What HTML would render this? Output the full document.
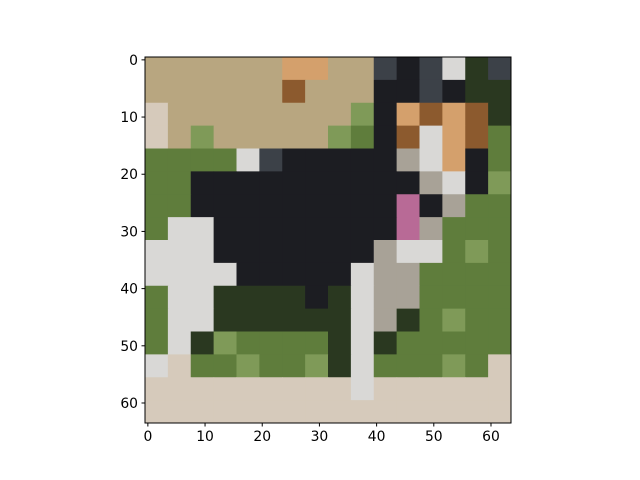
<!DOCTYPE html>
<html><head><meta charset="utf-8"><style>
body{margin:0;background:#fff;font-family:"DejaVu Sans",sans-serif}
svg text{font-family:"DejaVu Sans",sans-serif;font-size:13.9px;fill:#000}
</style></head><body>
<svg id="c" width="640" height="476"></svg>
<script>
const rows=[
"TTTTTTOOTTkKkWDk",
"TTTTTTBTTTKKkKDD",
"STTTTTTTTLKOBOBD",
"STLTTTTTLGKBWOBG",
"GGGGWkKKKKKgWOKG",
"GGKKKKKKKKKKgWKL",
"GGKKKKKKKKKPKgGG",
"GWWKKKKKKKKPgGGG",
"WWWKKKKKKKgWWGLG",
"WWWWKKKKKWggGGGG",
"GWWDDDDKDWggGGGG",
"GWWDDDDDDWgDGLGG",
"GWDLGGGGDWDGGGGG",
"WSGGLGGLDWGGGLGS",
"SSSSSSSSSWSSSSSS",
"SSSSSSSSSSSSSSSS"];
const palette={T:"#b8a680",S:"#d6cabb",G:"#5f7d3c",D:"#2a3820",K:"#1c1d22",k:"#3c4148",W:"#d9d8d6",g:"#a8a297",B:"#8c5a2e",O:"#d4a06c",P:"#b86a96",L:"#7f9a58"};
const xTicks=[0,10,20,30,40,50,60];
const yTicks=[0,10,20,30,40,50,60];
const N=64;
const svg=document.getElementById('c');
const NS="http://www.w3.org/2000/svg";
const L=145,Tp=57,S=366,px=S/N;
const sx=v=>L+(v+0.5)*px, sy=v=>Tp+(v+0.5)*px;
function mk(t,a){const e=document.createElementNS(NS,t);for(const k in a)e.setAttribute(k,a[k]);svg.appendChild(e);return e;}
const cs=S/rows.length;
rows.forEach((r,i)=>{for(let j=0;j<r.length;j++){
 const e=mk('rect',{x:L+j*cs,y:Tp+i*cs,width:cs+0.5,height:cs+0.5,fill:palette[r[j]]});
 
 
}});
const f=mk('rect',{x:L,y:Tp,width:S,height:S,fill:'none',stroke:'#000','stroke-width':1});


xTicks.forEach(v=>{
 const l=mk('line',{x1:sx(v),x2:sx(v),y1:Tp+S,y2:Tp+S+3.5,stroke:'#000'});
 
 
 const t=mk('text',{x:sx(v),y:Tp+S+18,'text-anchor':'middle'});t.textContent=v;
 
 
});
yTicks.forEach(v=>{
 const l=mk('line',{x1:L-3.5,x2:L,y1:sy(v),y2:sy(v),stroke:'#000'});
 
 
 const t=mk('text',{x:L-7,y:sy(v)+5,'text-anchor':'end'});t.textContent=v;
 
 
});
</script>
</body></html>
